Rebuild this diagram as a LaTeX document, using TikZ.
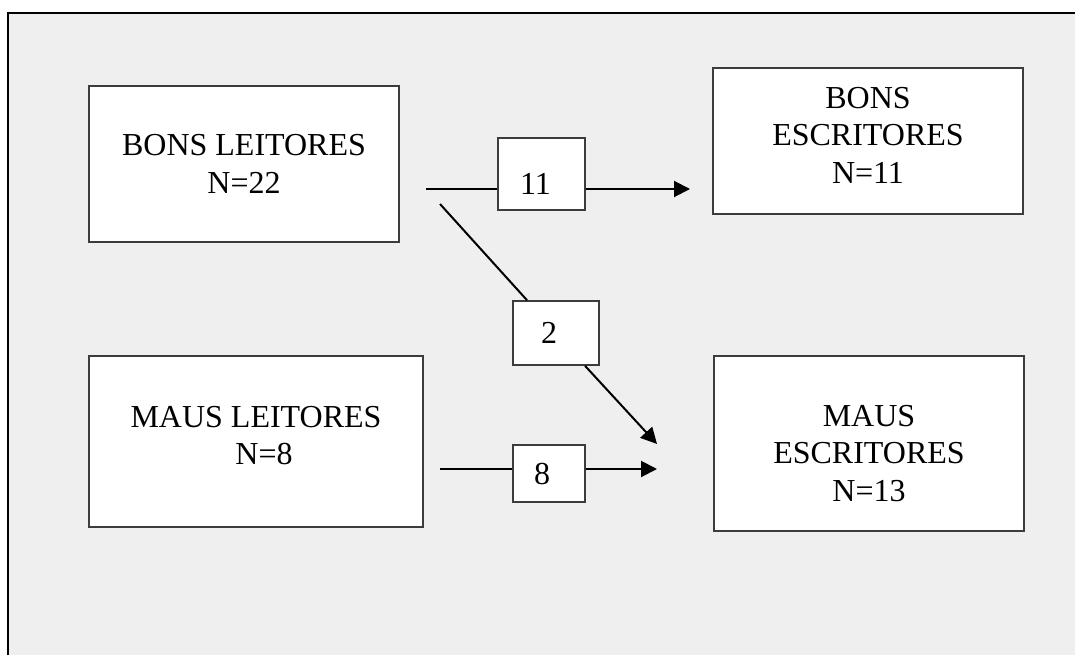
\documentclass[tikz,border=0pt]{standalone}
\usepackage{fontspec}
\setmainfont{Liberation Serif}
\usetikzlibrary{arrows.meta}
\definecolor{bgc}{RGB}{239,239,239}
\definecolor{edgec}{RGB}{60,60,60}
\begin{document}
\begin{tikzpicture}[x=1pt,y=-1pt,
  box/.style={draw=edgec, line width=1.6pt, fill=white, inner sep=0pt},
  txt/.style={font=\fontsize{32}{37.5}\selectfont, align=center, inner sep=0pt, text=black},
  conn/.style={line width=2pt, draw=black},
  arr/.style={conn, -{Triangle[length=16pt,width=16pt]}}]
\useasboundingbox (0,0) rectangle (1075,655);
\fill[bgc] (8,13) rectangle (1075,655);
\draw[line width=2.4pt] (8,655) -- (8,13) -- (1075,13);

% main boxes
\node[box, minimum width=310, minimum height=156,
  label={[txt]center:{BONS LEITORES\\N=22}}] (BL) at (244,164) {};
\node[box, minimum width=310, minimum height=146,
  label={[txt,yshift=6]center:{BONS\\ESCRITORES\\N=11}}] (BE) at (868,141) {};
\node[box, minimum width=334, minimum height=171,
  label={[txt,yshift=6]center:{MAUS LEITORES\\\hspace*{16pt}N=8}}] (ML) at (256,441.5) {};
\node[box, minimum width=310, minimum height=175,
  label={[txt,yshift=-10]center:{MAUS\\ESCRITORES\\N=13}}] (ME) at (869,443.5) {};

% count boxes
\node[box, minimum width=87, minimum height=72,
  label={[txt,xshift=-6,yshift=-10]center:11}] (L11) at (541.5,174) {};
\node[box, minimum width=86, minimum height=64,
  label={[txt,xshift=-7]center:2}] (L2) at (556,333) {};
\node[box, minimum width=72, minimum height=57,
  label={[txt,xshift=-7,yshift=-1]center:8}] (L8) at (549,473.5) {};

% connector ends
\coordinate (s1) at (426,189);
\coordinate (t1) at (690,189);
\coordinate (s2) at (440,204);
\coordinate (t2) at (657,444);
\coordinate (s3) at (440,469);
\coordinate (t3) at (657,469);

\draw[conn] (s1) -- (s1 -| L11.west);
\draw[arr] (s1 -| L11.east) -- (t1);
\draw[conn] (s2) -- ([xshift=-29]L2.north);
\draw[arr] ([xshift=29]L2.south) -- (t2);
\draw[conn] (s3) -- (s3 -| L8.west);
\draw[arr] (s3 -| L8.east) -- (t3);
\end{tikzpicture}
\end{document}
